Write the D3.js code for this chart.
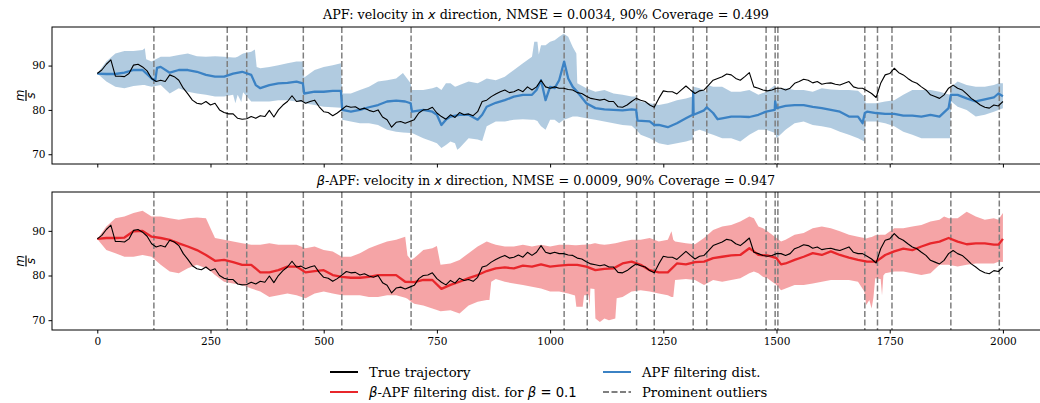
<!DOCTYPE html>
<html><head><meta charset="utf-8">
<script src="https://cdn.jsdelivr.net/npm/d3@7"></script>
<style>
body{margin:0;background:#fff;}
svg{display:block;}
text{font-family:"DejaVu Serif",serif;fill:#000;}
.math{font-family:"DejaVu Sans",sans-serif;font-style:italic;}
.mathup{font-family:"DejaVu Sans",sans-serif;}
</style></head>
<body><svg id="c" width="1040" height="403"></svg>
<script>
// ---------------- DATA ----------------
const xTicks = [0, 250, 500, 750, 1000, 1250, 1500, 1750, 2000];
const yTicks = [70, 80, 90];
const outliers = [125, 287, 330, 455, 540, 693, 1031, 1082, 1191, 1230, 1316, 1346, 1477, 1497, 1503, 1695, 1723, 1755, 1885, 1992];

// true trajectory, sampled every 10 steps (t = 0..2000)
const trueStep = 10;
const trueVals = [
88.2,89.0,90.3,91.3,87.6,87.6,87.5,88.2,90.1,90.3,
89.7,88.8,87.1,86.4,86.7,86.4,87.9,87.5,86.7,84.9,
83.6,82.2,81.5,81.3,81.9,81.1,81.5,80.0,79.4,79.1,
79.1,78.1,77.9,78.0,78.5,78.1,78.7,78.5,79.9,78.4,
80.0,81.1,81.9,83.2,81.9,82.1,81.5,81.9,82.2,80.7,
79.6,79.4,78.7,79.3,80.1,80.9,80.6,80.7,80.1,80.4,
79.9,79.6,80.0,78.4,77.8,76.1,77.2,77.4,77.0,77.4,
77.8,79.3,80.0,80.1,80.6,79.3,78.5,77.9,78.9,78.3,
79.4,78.9,79.1,78.7,79.6,81.9,82.2,83.0,83.6,84.1,
84.5,83.9,84.1,84.6,84.1,85.2,84.5,85.2,86.7,85.2,
84.9,85.2,84.9,84.9,84.6,84.5,83.9,83.7,83.1,82.6,
82.4,82.2,82.4,81.9,81.9,80.7,80.6,81.1,81.9,82.6,
82.2,81.9,81.1,80.6,82.6,84.3,84.1,84.1,83.6,84.5,
85.4,84.5,83.7,84.3,84.5,85.6,86.7,87.1,87.5,88.1,
87.9,87.1,86.7,87.5,88.4,85.2,84.9,84.5,84.3,84.5,
84.9,84.9,84.5,84.9,86.0,86.4,86.9,86.7,86.1,86.4,
85.8,86.0,86.1,85.8,85.6,86.0,86.4,85.2,84.9,84.9,
84.3,83.7,82.8,86.0,87.9,88.2,89.4,88.4,87.9,87.1,
86.4,86.0,85.2,84.5,83.4,83.0,82.6,83.4,84.9,85.6,
84.9,84.5,83.6,82.6,81.9,81.1,80.6,80.4,81.1,80.9,
81.9];

// APF filtering distribution mean: [t, value]
const apfMean = [
[0,88.2],[20,88.1],[40,88.1],[60,88.4],[80,89.0],[100,89.0],[120,87.1],[128,86.6],[132,89.5],[140,89.7],
[160,88.4],[180,89.0],[200,89.0],[220,88.6],[240,87.9],[260,87.5],[280,87.5],[300,88.2],[320,88.6],[340,87.9],
[350,85.6],[360,84.9],[380,85.6],[400,86.0],[420,86.1],[440,86.4],[454,86.0],[457,83.7],[480,84.1],[500,84.1],
[520,84.3],[538,84.3],[541,80.0],[560,79.6],[580,80.0],[600,80.6],[620,81.1],[640,81.9],[660,82.1],[680,81.9],
[692,81.5],[695,79.6],[720,80.0],[740,79.6],[750,78.9],[760,76.6],[770,77.8],[780,78.5],[800,78.9],[820,78.9],
[840,77.8],[850,78.9],[860,80.7],[880,81.6],[900,82.2],[920,83.0],[940,83.4],[960,83.4],[970,84.5],[980,86.7],
[990,82.2],[1000,85.2],[1010,84.9],[1020,86.7],[1031,90.9],[1040,87.1],[1050,85.2],[1060,84.1],[1080,81.5],[1100,80.4],
[1120,80.1],[1140,80.0],[1160,79.9],[1180,80.1],[1190,80.0],[1193,77.6],[1220,77.4],[1230,76.6],[1240,76.6],[1260,76.1],
[1280,77.0],[1300,78.1],[1315,78.9],[1316,84.1],[1317,78.9],[1340,79.9],[1346,80.6],[1360,79.3],[1370,77.9],[1380,78.1],
[1400,78.5],[1420,78.5],[1440,78.4],[1460,78.9],[1477,79.6],[1496,80.0],[1497,81.9],[1500,80.4],[1520,80.9],[1540,81.1],
[1560,81.1],[1580,80.7],[1600,80.4],[1620,80.0],[1640,79.6],[1660,78.5],[1680,78.5],[1690,77.0],[1695,79.3],[1700,79.6],
[1720,79.3],[1740,79.1],[1760,79.1],[1780,78.7],[1800,78.7],[1820,78.5],[1840,78.9],[1860,78.5],[1880,80.4],[1885,83.4],
[1900,83.4],[1920,82.6],[1940,81.9],[1960,82.4],[1980,82.8],[1990,83.7],[2000,83.1]];

// APF 90% band: [t, lower, upper]
const apfBand = [
[0,88.2,88.2],[20,86.4,90.9],[40,85.2,92.7],[60,84.9,93.3],[80,85.4,93.3],[100,85.6,93.5],[105,85.6,93.9],[108,85.5,91.4],
[120,85.2,90.9],[140,85.6,92.0],[160,83.7,92.0],[180,84.9,92.4],[200,84.1,92.7],[220,83.7,92.1],[240,83.4,92.0],
[260,83.0,92.1],[280,83.0,92.0],[300,83.4,91.8],[305,81.5,91.8],[310,83.4,92.0],[318,81.8,92.5],[322,84.0,92.7],
[340,81.9,93.1],[348,81.9,93.6],[352,81.9,89.7],[360,81.9,89.4],[380,81.9,89.7],[400,82.2,90.1],[420,82.2,90.5],
[440,81.9,90.9],[454,81.7,90.9],[457,81.5,87.3],[480,81.1,89.0],[500,80.7,89.7],[520,80.6,90.1],[538,80.5,90.5],
[541,77.8,83.7],[560,77.4,83.7],[580,77.0,84.5],[600,77.0,85.2],[620,76.6,86.4],[640,75.5,86.7],[660,75.1,87.1],
[675,74.9,88.3],[692,74.8,86.0],[695,74.8,84.5],[720,73.6,84.5],[740,72.9,84.9],[750,72.5,85.2],[760,71.4,84.5],
[770,72.1,86.0],[780,72.9,86.0],[790,72.5,85.2],[795,71.0,85.4],[800,71.4,85.6],[820,73.6,86.4],[840,73.3,86.0],
[850,73.0,86.5],[860,76.3,87.1],[880,77.4,86.7],[900,77.4,87.5],[920,77.8,89.0],[940,77.9,90.5],[960,77.8,92.0],
[965,77.8,95.4],[972,77.5,95.4],[975,77.0,92.5],[980,76.3,94.6],[990,75.5,94.6],[1000,77.8,95.4],[1010,77.8,95.7],
[1020,77.0,96.5],[1030,77.8,97.2],[1040,78.1,96.5],[1050,78.5,94.2],[1058,78.5,92.7],[1060,78.5,86.0],[1080,78.1,84.9],
[1100,77.8,84.1],[1120,77.4,84.5],[1140,77.0,83.7],[1160,76.6,83.4],[1180,76.4,83.0],[1190,75.5,83.0],[1200,74.4,81.9],
[1220,73.6,81.5],[1240,72.5,81.1],[1260,72.1,81.5],[1280,72.5,82.2],[1300,72.9,82.6],[1315,73.3,83.0],[1317,75.1,85.2],
[1330,75.5,84.9],[1345,75.0,84.1],[1348,74.8,85.6],[1360,74.4,85.2],[1380,73.6,85.2],[1400,73.6,84.1],[1420,72.9,84.1],
[1440,74.4,84.5],[1460,75.5,83.4],[1477,75.5,84.1],[1497,74.8,85.6],[1500,73.6,84.5],[1520,75.5,84.9],[1540,77.0,84.5],
[1560,77.4,84.5],[1580,76.6,84.1],[1600,76.3,84.9],[1620,75.9,84.6],[1640,75.1,84.5],[1660,74.4,84.5],[1680,73.6,84.3],
[1694,72.9,83.0],[1697,77.4,81.5],[1720,77.4,81.5],[1740,77.0,81.9],[1760,76.3,82.2],[1780,75.1,83.4],[1800,74.4,84.5],
[1820,73.6,84.5],[1840,73.6,84.5],[1860,73.6,84.1],[1883,73.6,83.4],[1886,81.9,85.2],[1900,80.7,86.4],[1920,80.0,85.6],
[1940,78.5,85.2],[1960,78.9,85.2],[1980,79.6,85.6],[1990,80.0,86.0],[2000,80.4,86.0]];

// beta-APF filtering distribution mean: [t, value]
const betaMean = [
[0,88.2],[20,88.4],[40,88.4],[60,88.5],[80,89.9],[100,90.0],[120,88.7],[140,88.4],[160,88.0],[180,87.2],
[200,86.5],[220,85.7],[240,84.6],[260,83.3],[280,83.5],[300,83.0],[320,82.4],[340,82.4],[360,80.7],[380,80.7],
[400,81.2],[420,82.0],[440,82.0],[460,80.7],[480,81.0],[500,81.2],[520,80.1],[540,79.7],[560,79.5],[580,79.5],
[600,79.7],[620,80.1],[640,80.1],[660,80.1],[680,78.6],[700,78.5],[720,79.0],[740,79.0],[760,77.0],[780,77.9],
[800,78.6],[820,79.4],[840,80.1],[860,81.0],[880,81.6],[900,81.8],[920,81.6],[940,82.2],[960,82.0],[980,82.5],
[1000,82.0],[1020,82.2],[1040,82.4],[1060,82.4],[1080,82.0],[1100,81.2],[1120,81.5],[1140,81.6],[1160,82.7],[1180,83.1],
[1200,82.4],[1220,81.2],[1240,80.7],[1260,80.7],[1280,82.7],[1300,82.5],[1320,83.0],[1340,83.1],[1360,83.9],[1380,84.2],
[1400,84.5],[1420,84.6],[1440,86.1],[1450,85.4],[1460,84.6],[1480,84.5],[1500,83.9],[1510,82.5],[1520,82.7],[1540,83.5],
[1560,84.2],[1580,85.0],[1600,84.6],[1620,85.4],[1640,84.6],[1660,84.0],[1680,83.5],[1700,83.1],[1720,83.1],[1740,84.6],
[1760,85.4],[1780,86.0],[1800,85.7],[1820,86.5],[1840,87.2],[1860,87.6],[1880,88.4],[1900,87.6],[1920,87.0],[1940,87.2],
[1960,87.2],[1980,86.9],[1990,86.9],[2000,88.2]];

// beta-APF 90% band: [t, lower, upper]
const betaBand = [
[0,88.2,88.2],[20,85.7,91.0],[40,85.0,92.8],[60,84.2,93.2],[80,84.2,94.0],[100,84.6,94.5],[120,84.2,93.2],[140,82.4,93.2],
[160,80.9,92.8],[180,80.5,92.5],[200,81.6,92.8],[220,82.4,93.0],[240,81.6,92.8],[250,81.0,90.6],[260,80.1,88.4],
[280,78.6,88.0],[300,78.2,87.6],[320,77.9,87.2],[340,77.1,86.9],[360,76.4,86.9],[380,75.2,87.2],[400,75.6,86.9],
[420,76.0,86.9],[440,75.6,86.9],[460,74.9,86.1],[480,76.0,86.5],[500,76.4,85.7],[520,76.0,85.4],[540,75.6,84.2],
[560,75.6,84.2],[580,75.6,85.0],[600,75.2,86.1],[620,75.2,86.9],[640,75.6,87.6],[660,75.6,88.0],[680,75.0,88.7],
[685,74.8,84.5],[693,74.1,83.5],[700,73.7,83.9],[720,73.3,85.7],[740,72.6,86.1],[750,72.3,86.6],[758,72.0,82.4],
[780,72.2,82.7],[800,71.5,83.5],[820,73.3,85.0],[840,74.1,86.5],[860,74.5,87.6],[866,74.5,87.4],[870,78.6,87.2],
[880,79.2,86.9],[900,78.6,86.5],[920,78.2,86.5],[940,77.9,86.9],[960,77.5,86.5],[980,77.1,86.9],[1000,76.4,86.5],
[1020,76.4,86.9],[1040,76.0,86.9],[1055,75.5,86.8],[1058,73.0,86.8],[1072,73.0,86.9],[1075,75.6,86.9],[1085,75.6,87.0],
[1087,73.0,87.0],[1089,77.1,87.0],[1098,77.0,87.2],[1100,70.4,87.2],[1110,69.6,87.0],[1120,70.4,86.9],[1130,70.0,87.0],
[1144,70.4,87.2],[1147,74.9,87.3],[1160,75.2,87.6],[1180,76.4,88.0],[1200,76.7,88.0],[1220,76.4,88.4],[1240,76.0,87.6],
[1260,75.6,88.0],[1268,75.2,89.9],[1272,75.2,88.0],[1276,79.0,87.6],[1300,79.2,87.2],[1320,79.0,87.0],[1340,77.9,88.4],
[1360,79.0,90.2],[1380,78.6,91.0],[1400,79.0,91.3],[1420,79.4,92.1],[1440,80.5,93.2],[1450,80.9,92.8],[1460,80.5,91.0],
[1470,79.7,90.6],[1480,79.4,89.9],[1500,77.9,88.4],[1510,76.7,87.6],[1520,77.1,88.0],[1540,77.9,89.1],[1560,77.9,89.5],
[1580,78.2,90.6],[1600,78.6,91.0],[1620,79.0,90.6],[1640,79.0,89.9],[1660,79.0,89.1],[1680,78.6,88.7],[1694,76.4,88.4],
[1698,73.4,88.3],[1705,74.5,88.5],[1710,72.6,88.6],[1714,75.0,88.8],[1718,79.4,89.0],[1730,79.2,89.1],[1733,75.6,89.1],
[1736,80.0,89.1],[1740,80.5,89.1],[1760,80.9,90.6],[1780,80.9,90.6],[1800,80.5,91.0],[1820,80.1,91.3],[1840,80.5,92.1],
[1860,82.4,92.5],[1870,82.4,93.2],[1880,82.4,92.8],[1900,82.0,92.8],[1920,82.4,94.3],[1940,82.7,93.2],[1960,82.7,92.5],
[1980,82.7,92.8],[1990,83.1,92.5],[2000,83.0,94.0]];

// ---------------- DRAW ----------------
const svg = d3.select("#c");
const x = d3.scaleLinear().domain([-100, 2100]).range([52, 1048.2]);
const yDomain = [67.8, 98.7];
const panels = [
  {top:27, bottom:164, band:apfBand, mean:apfMean, color:"#3b82c4", fill:"#4682b4"},
  {top:192, bottom:330, band:betaBand, mean:betaMean, color:"#e8262b", fill:"#ec4a4d"}
];
const trueData = trueVals.map((v,i)=>[i*trueStep, v]);

panels.forEach((p, pi) => {
  const y = d3.scaleLinear().domain(yDomain).range([p.bottom, p.top]);
  svg.append("clipPath").attr("id", "clip"+pi).append("rect")
    .attr("x", 52).attr("y", p.top).attr("width", 1000).attr("height", p.bottom - p.top);
  const g = svg.append("g").attr("clip-path", `url(#clip${pi})`);
  const area = d3.area().x(d=>x(d[0])).y0(d=>y(d[1])).y1(d=>y(d[2]));
  g.append("path").datum(p.band).attr("d", area).attr("fill", p.fill).attr("fill-opacity", pi===0?0.42:0.5).attr("stroke","none");
  g.selectAll("line.out").data(outliers).enter().append("line")
    .attr("x1", d=>x(d)).attr("x2", d=>x(d)).attr("y1", p.top).attr("y2", p.bottom)
    .attr("stroke", "#7f7f7f").attr("stroke-width", 1.5).attr("stroke-dasharray", "6,2.5");
  const line = d3.line().x(d=>x(d[0])).y(d=>y(d[1]));
  g.append("path").datum(p.mean).attr("d", line).attr("fill","none").attr("stroke", p.color).attr("stroke-width", 2.3).attr("stroke-linejoin","round");
  g.append("path").datum(trueData).attr("d", line).attr("fill","none").attr("stroke", "#000").attr("stroke-width", 1.1).attr("stroke-linejoin","round");

  // frame
  svg.append("rect").attr("x", 52).attr("y", p.top).attr("width", 1048.2-52).attr("height", p.bottom-p.top)
    .attr("fill","none").attr("stroke","#000").attr("stroke-width",1);

  // axes
  const yAxis = d3.axisLeft(y).tickValues(yTicks).tickSize(3.5).tickPadding(3);
  const ya = svg.append("g").attr("transform", "translate(52,0)").call(yAxis);
  ya.select(".domain").remove();
  ya.selectAll("text").style("font-family","DejaVu Serif").style("font-size","10.5px").attr("fill","#000");
  const xAxis = d3.axisBottom(x).tickValues(xTicks).tickSize(3.5).tickPadding(4).tickFormat(pi===1?d3.format("d"):()=> "");
  const xa = svg.append("g").attr("transform", `translate(0,${p.bottom})`).call(xAxis);
  xa.select(".domain").remove();
  xa.selectAll("text").style("font-family","DejaVu Serif").style("font-size","10.5px").attr("fill","#000");

  // y label: m / s fraction, rotated
  const cy = (p.top + p.bottom) / 2;
  const fl = svg.append("g").attr("transform", `translate(26,${cy}) rotate(-90)`);
  fl.append("text").attr("class","math").attr("x",0).attr("y",-2.5).attr("text-anchor","middle").style("font-size","12px").text("m");
  fl.append("line").attr("x1",-5.5).attr("x2",5.5).attr("y1",0).attr("y2",0).attr("stroke","#000").attr("stroke-width",1.2);
  fl.append("text").attr("class","math").attr("x",0).attr("y",9).attr("text-anchor","middle").style("font-size","12px").text("s");
});

// titles
function title(yPos, parts){
  const t = svg.append("text").attr("x", 546).attr("y", yPos).attr("text-anchor","middle").style("font-size","12.75px");
  parts.forEach(pt => { const s = t.append("tspan").text(pt[0]); if (pt[1]) s.attr("class", pt[1]); });
}
title(19, [["APF: velocity in "],["x","math"],[" direction, NMSE = 0.0034, 90% Coverage = 0.499"]]);
title(185, [["β","math"],["-APF: velocity in "],["x","math"],[" direction, NMSE = 0.0009, 90% Coverage = 0.947"]]);

// legend
const legend = [
  {x:330, y:372, color:"#000", dash:null, parts:[["True trajectory"]]},
  {x:330, y:392, color:"#e8262b", dash:null, parts:[["β","math"],["-APF filtering dist. for "],["β","math"],[" = 0.1","mathup"]]},
  {x:603, y:372, color:"#3b82c4", dash:null, parts:[["APF filtering dist."]]},
  {x:603, y:392, color:"#7f7f7f", dash:"6,2.5", parts:[["Prominent outliers"]]}
];
legend.forEach(l => {
  const ln = svg.append("line").attr("x1", l.x).attr("x2", l.x+28).attr("y1", l.y).attr("y2", l.y)
    .attr("stroke", l.color).attr("stroke-width", 2);
  if (l.dash) ln.attr("stroke-dasharray", l.dash);
  const t = svg.append("text").attr("x", l.x+39).attr("y", l.y+4.5).style("font-size","13.2px");
  l.parts.forEach(pt => { const s = t.append("tspan").text(pt[0]); if (pt[1]) s.attr("class", pt[1]); });
});
</script></body></html>
